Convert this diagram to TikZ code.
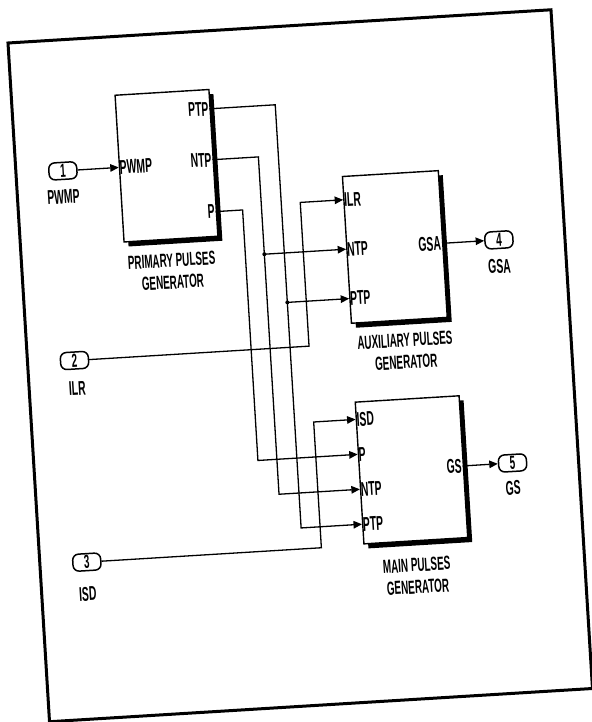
\documentclass[tikz,border=0pt]{standalone}
\usepackage{fontspec}
\setmainfont{Liberation Sans}[FakeStretch=0.52]
\usetikzlibrary{arrows.meta,shadows}
\begin{document}
\begin{tikzpicture}[x=1pt,y=-1pt,
  wire/.style={line width=1.3pt},
  arr/.style={wire,-{Triangle[length=8.5pt,width=7.5pt]}},
  blk/.style={draw,fill=white,line width=1.4pt,anchor=north west,inner sep=0pt,
    drop shadow={shadow xshift=4.5pt,shadow yshift=-4.5pt,opacity=1,fill=black}},
  port/.style={draw,fill=white,rounded corners=6pt,line width=1.5pt,minimum width=28pt,
    minimum height=17pt,inner sep=0pt,font=\bfseries\fontsize{19}{19}\selectfont},
  txt/.style={inner sep=0.8pt,font=\bfseries\fontsize{20}{22}\selectfont},
  captxt/.style={inner sep=1pt,align=center,font=\bfseries\fontsize{19}{22}\selectfont},
  dot/.style={fill=black}]
\useasboundingbox (0,0) rectangle (591,722);
\begin{scope}[shift={(8,43)},rotate=3.5,transform shape]
  % outer frame
  \draw[line width=3pt] (0,0) rectangle (544,680);

  % blocks
  \node[blk,minimum width=94pt,minimum height=147pt] (pb) at (103,58) {};
  \node[blk,minimum width=96pt,minimum height=147pt] (ab) at (325,153) {};
  \node[blk,minimum width=104pt,minimum height=142pt] (mb) at (324,379) {};

  % port points
  \coordinate (pPWMP) at (103,131);
  \coordinate (pPTP) at (197,78);
  \coordinate (pNTP) at (197,129);
  \coordinate (pP) at (197,181);
  \coordinate (aILR) at (325,177);
  \coordinate (aNTP) at (325,226.5);
  \coordinate (aPTP) at (325,276);
  \coordinate (aGSA) at (421,226.5);
  \coordinate (mISD) at (324,397);
  \coordinate (mP) at (324,432);
  \coordinate (mNTP) at (324,467);
  \coordinate (mPTP) at (324,502);
  \coordinate (mGS) at (428,450);

  % port labels
  \node[txt,anchor=west] (lPWMP) at (pPWMP) {PWMP};
  \node[txt,anchor=east] (lpPTP) at (pPTP) {PTP};
  \node[txt,anchor=east] (lpNTP) at (pNTP) {NTP};
  \node[txt,anchor=east] (lpP) at (pP) {P};
  \node[txt,anchor=west] (laILR) at (aILR) {ILR};
  \node[txt,anchor=west] (laNTP) at (aNTP) {NTP};
  \node[txt,anchor=west] (laPTP) at (aPTP) {PTP};
  \node[txt,anchor=east] (laGSA) at (aGSA) {GSA};
  \node[txt,anchor=west] (lmISD) at (mISD) {ISD};
  \node[txt,anchor=west] (lmP) at (mP) {P};
  \node[txt,anchor=west] (lmNTP) at (mNTP) {NTP};
  \node[txt,anchor=west] (lmPTP) at (mPTP) {PTP};
  \node[txt,anchor=east] (lmGS) at (mGS) {GS};

  % block captions
  \node[captxt] (cpb) at (150,238) {PRIMARY PULSES\\GENERATOR};
  \node[captxt] (cab) at (378,332) {AUXILIARY PULSES\\GENERATOR};
  \node[captxt] (cmb) at (376,557) {MAIN PULSES\\GENERATOR};

  % inports / outports
  \node[port] (in1) at (47,131) {1};
  \node[port] (in2) at (47,321) {2};
  \node[port] (in3) at (47,523) {3};
  \node[port] (out4) at (478,226.5) {4};
  \node[port] (out5) at (478,450) {5};
  \node[txt] (lin1) at (46,157) {PWMP};
  \node[txt] (lin2) at (48,349) {ILR};
  \node[txt] (lin3) at (46,555) {ISD};
  \node[txt] (lout4) at (477,253) {GSA};
  \node[txt] (lout5) at (477,475) {GS};

  % wire corners
  \coordinate (cT1) at (263,78);
  \coordinate (cT2) at (263,502);
  \coordinate (jT) at (263,276);
  \coordinate (cN1) at (243,129);
  \coordinate (cN2) at (243,467);
  \coordinate (jN) at (243,226.5);
  \coordinate (cP1) at (224,181);
  \coordinate (cP2) at (224,432);
  \coordinate (cI1) at (282,321);
  \coordinate (cI2) at (282,177);
  \coordinate (cS1) at (282,523);
  \coordinate (cS2) at (282,397);

  % wires
  \draw[arr] (in1) -- (pPWMP);
  \draw[arr] (pPTP) -- (cT1) -- (cT2) -- (mPTP);
  \draw[arr] (jT) -- (aPTP);
  \draw[arr] (pNTP) -- (cN1) -- (cN2) -- (mNTP);
  \draw[arr] (jN) -- (aNTP);
  \draw[arr] (pP) -- (cP1) -- (cP2) -- (mP);
  \draw[arr] (in2) -- (cI1) -- (cI2) -- (aILR);
  \draw[arr] (in3) -- (cS1) -- (cS2) -- (mISD);
  \draw[arr] (aGSA) -- (out4);
  \draw[arr] (mGS) -- (out5);
  \fill[dot] (jT) circle[radius=2pt];
  \fill[dot] (jN) circle[radius=2pt];
\end{scope}
\end{tikzpicture}
\end{document}
